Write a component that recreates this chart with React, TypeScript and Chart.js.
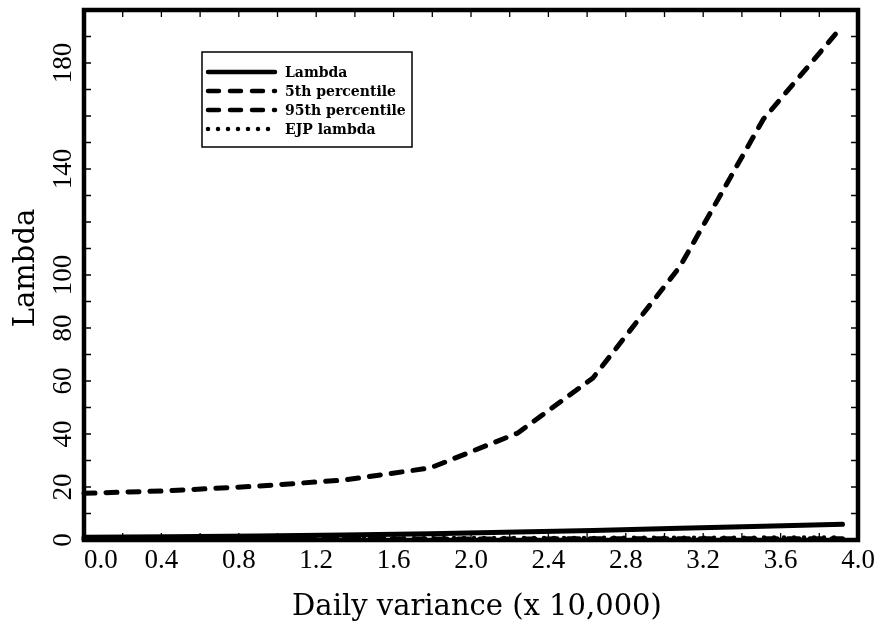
import React, { useEffect, useRef } from 'react';
import { Chart, registerables } from 'chart.js';

Chart.register(...registerables);

// ---- data ----
const xValues = [0, 0.44, 0.89, 1.34, 1.79, 2.24, 2.63, 3.08, 3.51, 3.92];
const lambdaValues = [1.0, 1.2, 1.5, 1.9, 2.4, 3.0, 3.6, 4.4, 5.2, 5.9];
const pct5Values = [0.3, 0.3, 0.3, 0.35, 0.4, 0.4, 0.45, 0.5, 0.5, 0.5];
const pct95Values = [17.6, 18.6, 20.3, 22.6, 27.2, 40.3, 61.1, 103.2, 158.7, 194];
const ejpValues = [0.5, 0.55, 0.6, 0.65, 0.7, 0.75, 0.8, 0.85, 0.9, 0.9];

const seriesNames = ['Lambda', '5th percentile', '95th percentile', 'EJP lambda'];
const xTickValues = [0, 0.4, 0.8, 1.2, 1.6, 2.0, 2.4, 2.8, 3.2, 3.6, 4.0];
const xTickLabels = ['0.0', '0.4', '0.8', '1.2', '1.6', '2.0', '2.4', '2.8', '3.2', '3.6', '4.0'];
const yTickValues = [0, 20, 40, 60, 80, 100, 140, 180];
const yTickLabels = ['0', '20', '40', '60', '80', '100', '140', '180'];
const xTitle = 'Daily variance (x 10,000)';
const yTitle = 'Lambda';

const toPoints = (ys: number[]) => ys.map((y, i) => ({ x: xValues[i], y }));

const framePlugin = {
  id: 'frameTicksLegend',
  afterDraw(chart: any) {
    const { ctx, chartArea } = chart;
    const { left, right, top, bottom } = chartArea;
    const xs = chart.scales.x;
    const ys = chart.scales.y;
    ctx.save();
    ctx.strokeStyle = '#000';
    ctx.fillStyle = '#000';
    // inward tick marks on all four sides
    ctx.lineWidth = 1.3;
    ctx.beginPath();
    xs.ticks.forEach((t: any) => {
      const px = xs.getPixelForValue(t.value);
      ctx.moveTo(px, top);
      ctx.lineTo(px, top + 7);
      ctx.moveTo(px, bottom);
      ctx.lineTo(px, bottom - 7);
    });
    ys.ticks.forEach((t: any) => {
      const py = ys.getPixelForValue(t.value);
      ctx.moveTo(left, py);
      ctx.lineTo(left + 7, py);
      ctx.moveTo(right, py);
      ctx.lineTo(right - 7, py);
    });
    ctx.stroke();
    // frame
    ctx.lineWidth = 4.5;
    ctx.strokeRect(left, top, right - left, bottom - top);

    // legend
    const lx = left + 118;
    const ly = top + 42;
    ctx.lineWidth = 1.5;
    ctx.strokeRect(lx, ly, 210, 95);
    ctx.font = 'bold 14px "DejaVu Serif"';
    ctx.textAlign = 'left';
    ctx.textBaseline = 'middle';
    chart.data.datasets.forEach((ds: any, i: number) => {
      const y = ly + 20 + i * 19;
      ctx.save();
      ctx.lineWidth = ds.borderWidth === 5 ? 4.5 : ds.borderWidth;
      ctx.lineCap = 'round';
      ctx.setLineDash(ds.borderDash || []);
      ctx.beginPath();
      ctx.moveTo(lx + 6, y);
      ctx.lineTo(lx + 73, y);
      ctx.stroke();
      ctx.restore();
      ctx.fillText(ds.label, lx + 83, y + 1);
    });

    // axis titles
    ctx.font = '29px "DejaVu Serif"';
    ctx.textAlign = 'center';
    ctx.textBaseline = 'middle';
    ctx.fillText(xTitle, (left + right) / 2 + 6, 607);
    ctx.save();
    ctx.translate(26, (top + bottom) / 2 - 7);
    ctx.rotate(-Math.PI / 2);
    ctx.fillText(yTitle, 0, 0);
    ctx.restore();
    ctx.restore();
  },
};

const labelFor = (values: number[], labels: string[], v: number, eps: number) => {
  const i = values.findIndex((t) => Math.abs(t - v) < eps);
  return i < 0 ? '' : labels[i];
};

export default function App() {
  const canvasRef = useRef<HTMLCanvasElement | null>(null);

  useEffect(() => {
    if (!canvasRef.current) return;
    const common = {
      borderColor: '#000',
      backgroundColor: '#000',
      pointRadius: 0,
      tension: 0,
      fill: false,
      borderCapStyle: 'round' as const,
      borderJoinStyle: 'round' as const,
      clip: false as const,
    };
    const chart = new Chart(canvasRef.current, {
      type: 'line',
      data: {
        datasets: [
          { ...common, label: seriesNames[0], data: toPoints(lambdaValues), borderWidth: 5, borderDash: [] },
          { ...common, label: seriesNames[1], data: toPoints(pct5Values), borderWidth: 5, borderDash: [11, 11] },
          { ...common, label: seriesNames[2], data: toPoints(pct95Values), borderWidth: 5, borderDash: [11, 11] },
          { ...common, label: seriesNames[3], data: toPoints(ejpValues), borderWidth: 4.5, borderDash: [0, 10] },
        ],
      },
      options: {
        animation: false,
        responsive: false,
        devicePixelRatio: 1,
        layout: { padding: { left: 0, right: 22, top: 10, bottom: 0 } },
        plugins: { legend: { display: false }, tooltip: { enabled: false } },
        scales: {
          x: {
            type: 'linear',
            min: 0,
            max: 4,
            grid: { display: false, drawTicks: false },
            border: { display: false },
            afterFit: (s: any) => {
              s.height = 86;
              s.paddingLeft = 0;
              s.paddingRight = 0;
            },
            ticks: {
              stepSize: 0.2,
              autoSkip: false,
              maxRotation: 0,
              minRotation: 0,
              padding: 5,
              color: '#000',
              font: { family: '"Liberation Serif"', size: 27 },
              callback: (v: any) => {
                const lab = labelFor(xTickValues, xTickLabels, Number(v), 1e-6);
                return lab === '0.0' ? '\u2007\u2007\u2008' + lab : lab;
              },
            },
          },
          y: {
            type: 'linear',
            min: 0,
            max: 200,
            grid: { display: false, drawTicks: false },
            border: { display: false },
            afterFit: (s: any) => {
              s.width = 84;
              s.paddingTop = 0;
              s.paddingBottom = 0;
            },
            ticks: {
              stepSize: 10,
              autoSkip: false,
              minRotation: 90,
              maxRotation: 90,
              crossAlign: 'center',
              padding: 0,
              color: '#000',
              font: { family: '"Liberation Serif"', size: 27 },
              callback: (v: any) => labelFor(yTickValues, yTickLabels, Number(v), 1e-6),
            },
          },
        },
      },
      plugins: [framePlugin],
    });
    return () => chart.destroy();
  }, []);

  return (
    <div style={{ position: 'absolute', left: 0, top: 0, width: 880, height: 626, background: '#fff' }}>
      <canvas ref={canvasRef} width={880} height={626} style={{ display: 'block' }} />
    </div>
  );
}
